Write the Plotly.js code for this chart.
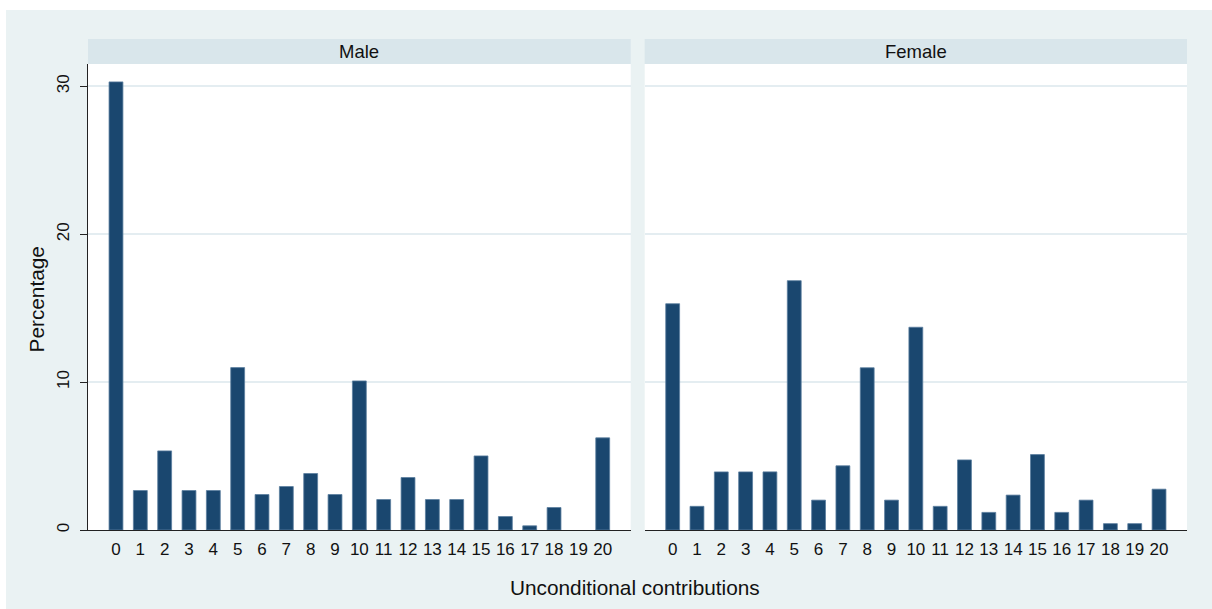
<!DOCTYPE html>
<html>
<head>
<meta charset="utf-8">
<script src="https://cdn.plot.ly/plotly-3.0.1.min.js"></script>
<style>
html,body{margin:0;padding:0;background:#ffffff;}
#chart{position:absolute;left:6px;top:10px;width:1206px;height:599px;}
</style>
</head>
<body>
<div id="chart"></div>
<script>
// ---- data ----
var categories = [0,1,2,3,4,5,6,7,8,9,10,11,12,13,14,15,16,17,18,19,20];
var tickLabels = ["0","1","2","3","4","5","6","7","8","9","10","11","12","13","14","15","16","17","18","19","20"];
var maleValues = [30.3,2.67,5.35,2.67,2.67,10.98,2.4,2.94,3.82,2.4,10.08,2.06,3.55,2.06,2.06,5.01,0.91,0.28,1.52,0,6.23];
var femaleValues = [15.3,1.6,3.93,3.93,3.93,16.86,2.02,4.34,10.97,2.02,13.71,1.6,4.74,1.19,2.36,5.1,1.19,2.02,0.43,0.43,2.76];
var panelNames = ["Male","Female"];
var yTicks = [0,10,20,30];
var xTitle = "Unconditional contributions";
var yTitle = "Percentage";

// ---- layout geometry (pixels within the chart div) ----
var W = 1206, H = 599;
var mL = 81.7, mR = 24.7, mT = 54.3, mB = 78.6;
var pw = W - mL - mR, ph = H - mT - mB;
var d1 = [0, 543/pw];
var d2 = [(644.7-87.7)/pw, 1];
var stripH = 25/ph;

var barColor = '#1a476f';
var font = 'Liberation Sans, Arial, sans-serif';

function barTrace(vals, xa, ya){
  return {
    type:'bar', x:categories, y:vals, xaxis:xa, yaxis:ya,
    width:0.57,
    marker:{color:barColor, line:{color:'#5a7d9e', width:vals.map(function(v){return v>0?0.8:0;})}},
    hoverinfo:'x+y', showlegend:false
  };
}

var xCommon = {
  range:[-1.15,21.15], tickmode:'array', tickvals:categories, ticktext:tickLabels,
  showgrid:false, zeroline:false, showline:true, linecolor:'#222', linewidth:1,
  ticks:'outside', ticklen:4, tickcolor:'rgba(0,0,0,0)',
  tickfont:{family:font, size:17, color:'#111'}, fixedrange:true
};
var yCommon = {
  range:[0,31.51], tickvals:yTicks, showgrid:true, gridcolor:'#e4edf1', gridwidth:1.8,
  zeroline:false, fixedrange:true
};

var layout = {
  width:W, height:H,
  margin:{l:mL, r:mR, t:mT, b:mB, pad:0},
  paper_bgcolor:'#eaf2f3', plot_bgcolor:'#ffffff',
  bargap:0,
  xaxis: Object.assign({}, xCommon, {domain:d1, anchor:'y'}),
  xaxis2: Object.assign({}, xCommon, {domain:d2, anchor:'y2'}),
  yaxis: Object.assign({}, yCommon, {
    domain:[0,1], anchor:'x', showline:true, linecolor:'#222', linewidth:1,
    ticks:'outside', ticklen:7, tickcolor:'#222', tickangle:-90,
    ticklabelstandoff:4,
    tickfont:{family:font, size:17, color:'#111'}
  }),
  yaxis2: Object.assign({}, yCommon, {
    domain:[0,1], anchor:'x2', matches:'y', showline:false, showticklabels:false, ticks:''
  }),
  shapes:[
    {type:'rect', xref:'paper', yref:'paper', x0:d1[0], x1:d1[1], y0:1, y1:1+stripH, fillcolor:'#d9e6eb', line:{width:0}, layer:'below'},
    {type:'rect', xref:'paper', yref:'paper', x0:d2[0], x1:d2[1], y0:1, y1:1+stripH, fillcolor:'#d9e6eb', line:{width:0}, layer:'below'}
  ],
  annotations:[
    {text:panelNames[0], xref:'paper', yref:'paper', x:(d1[0]+d1[1])/2, y:1+stripH/2, showarrow:false, xanchor:'center', yanchor:'middle', font:{family:font, size:18.5, color:'#111'}},
    {text:panelNames[1], xref:'paper', yref:'paper', x:(d2[0]+d2[1])/2, y:1+stripH/2, showarrow:false, xanchor:'center', yanchor:'middle', font:{family:font, size:18.5, color:'#111'}},
    {text:xTitle, xref:'paper', yref:'paper', x:(634.5-87.7)/pw, y:-(588-530.4)/ph, showarrow:false, xanchor:'center', yanchor:'middle', font:{family:font, size:20.8, color:'#111'}},
    {text:yTitle, xref:'paper', yref:'paper', x:-(87.7-36.5)/pw, y:(530.4-300)/ph, showarrow:false, xanchor:'center', yanchor:'middle', textangle:-90, font:{family:font, size:20.8, color:'#111'}}
  ]
};

Plotly.newPlot('chart', [barTrace(maleValues,'x','y'), barTrace(femaleValues,'x2','y2')], layout, {displayModeBar:false, staticPlot:true});
</script>
</body>
</html>
